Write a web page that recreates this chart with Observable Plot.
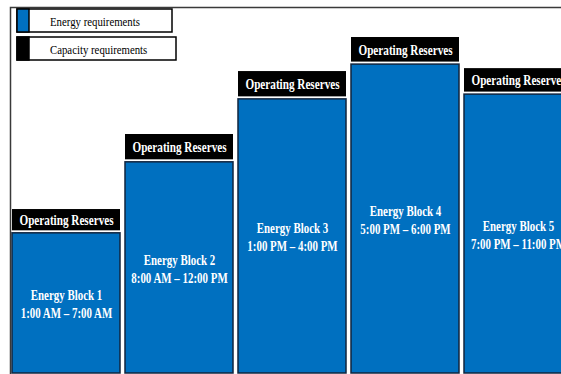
<!DOCTYPE html>
<html>
<head>
<meta charset="utf-8">
<script src="https://cdn.jsdelivr.net/npm/d3@7"></script>
<script src="https://cdn.jsdelivr.net/npm/@observablehq/plot@0.6"></script>
<style>
  html, body { margin: 0; padding: 0; background: #fff; overflow: hidden; }
</style>
</head>
<body>
<div id="chart"></div>
<script>
// Energy blocks across the day, each topped by its operating-reserve slice
const blocks = ["Energy Block 1", "Energy Block 2", "Energy Block 3", "Energy Block 4", "Energy Block 5"];
const hours = ["1:00 AM – 7:00 AM", "8:00 AM – 12:00 PM", "1:00 PM – 4:00 PM", "5:00 PM – 6:00 PM", "7:00 PM – 11:00 PM"];
const energy = [38.3, 57.7, 74.9, 84.4, 76.2];
const reserves = [6.5, 7.6, 7.6, 7.4, 7.1];
const reserveLabel = "Operating Reserves";
const legendLabels = ["Energy requirements", "Capacity requirements"];
const legendColors = ["#0070c0", "#000000"];

const blue = "#0070c0";
const serif = "'Liberation Serif', 'Times New Roman', serif";

const rows = blocks.map((b, i) => ({
  block: b,
  label: `${b}\n${hours[i]}`,
  energy: energy[i],
  reserve: reserves[i]
}));

const chart = Plot.plot({
  width: 561,
  height: 374,
  marginTop: 7,
  marginLeft: 10,
  marginRight: 0,
  marginBottom: 1,
  x: {type: "band", domain: blocks, range: [12, 572], paddingInner: 0.046, paddingOuter: 0, axis: null},
  y: {domain: [0, 100], axis: null},
  style: {background: "#fff", fontFamily: serif, overflow: "visible"},
  marks: [
    Plot.frame({stroke: "#3a3a3a", strokeWidth: 1.5, insetRight: -10, insetBottom: -10}),
    Plot.barY(rows, {x: "block", y1: 0, y2: "energy", fill: blue, stroke: "#10243e", strokeWidth: 1.5}),
    Plot.barY(rows, {x: "block", y1: "energy", y2: d => d.energy + d.reserve, insetBottom: 2.5, fill: "#000"}),
    Plot.text(rows, {
      x: "block", y: d => d.energy + d.reserve / 2, dy: -1,
      text: () => reserveLabel, fill: "#fff", fontWeight: "bold", fontSize: 14,
      ariaDescription: "squeeze-0.8"
    }),
    Plot.text(rows, {
      x: "block", y: d => d.energy / 2,
      text: "label", fill: "#fff", fontWeight: "bold", fontSize: 14, lineHeight: 1.3,
      ariaDescription: "squeeze-0.78"
    })
  ]
});

const svg = d3.select(chart);

// condense the bold labels horizontally around their anchor point
svg.selectAll('g[aria-description^="squeeze-"]').each(function () {
  const k = +this.getAttribute("aria-description").slice(8);
  d3.select(this).selectAll("text").each(function () {
    const t = this.getAttribute("transform");
    if (t) {
      this.setAttribute("transform", `${t} scale(${k},1)`);
    } else {
      const x = +this.getAttribute("x") || 0;
      this.removeAttribute("x");
      this.setAttribute("transform", `translate(${x},0) scale(${k},1)`);
    }
  });
});

// legend boxes in the upper-left corner
const legend = svg.append("g")
  .attr("font-family", serif).attr("font-size", 13).attr("text-anchor", "start");
legendLabels.forEach((label, i) => {
  const y0 = 9 + i * 28;
  legend.append("rect")
    .attr("x", 17).attr("y", y0).attr("width", 155 + i * 4).attr("height", 23)
    .attr("fill", "#fff").attr("stroke", "#000").attr("stroke-width", 1.5);
  legend.append("rect")
    .attr("x", 17).attr("y", y0).attr("width", 12).attr("height", 23)
    .attr("fill", legendColors[i]).attr("stroke", "#000").attr("stroke-width", 1.5);
  legend.append("text")
    .attr("transform", `translate(50,${y0 + 12}) scale(0.83,1)`)
    .attr("dy", "0.35em")
    .attr("fill", "#000")
    .text(label);
});

document.getElementById("chart").append(chart);
</script>
</body>
</html>
